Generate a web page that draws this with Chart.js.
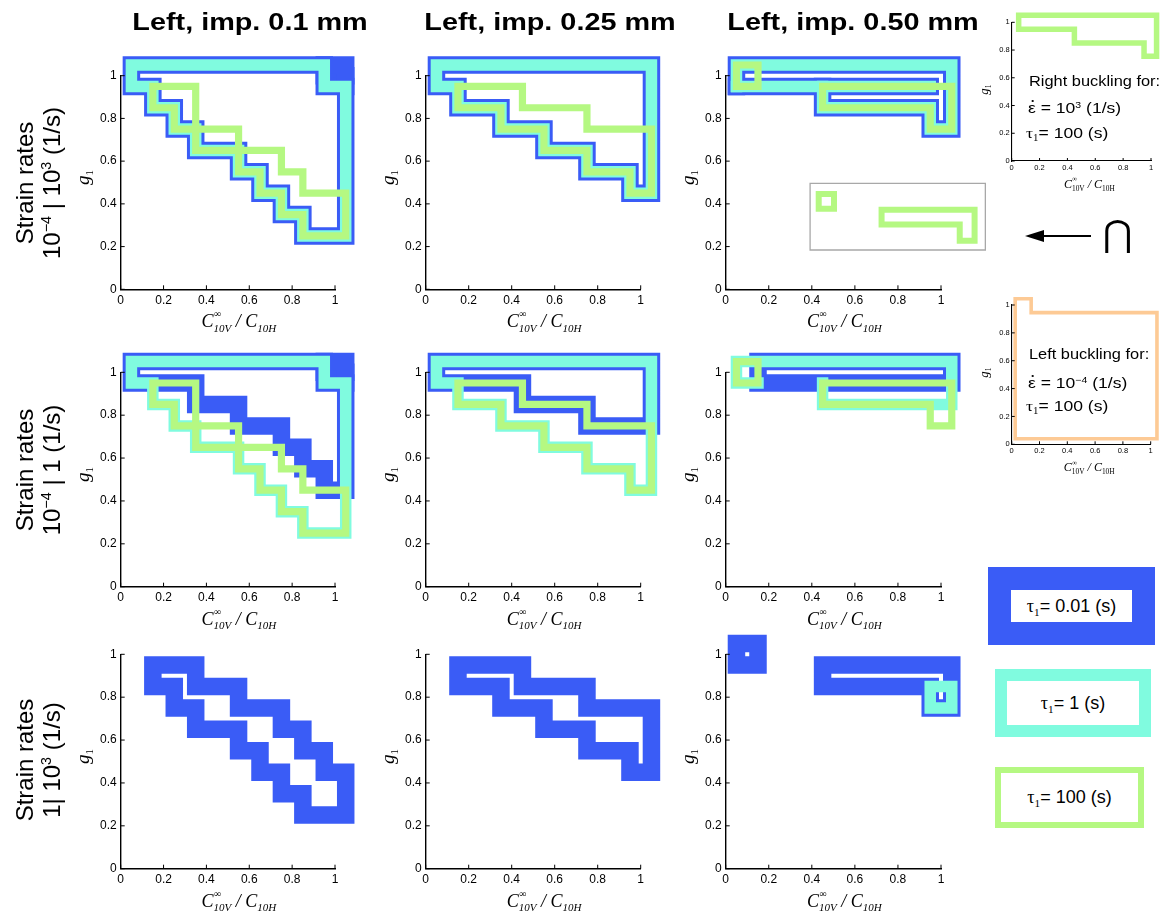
<!DOCTYPE html>
<html><head><meta charset="utf-8">
<script src="https://cdn.jsdelivr.net/npm/chart.js@4.4.1/dist/chart.umd.min.js"></script>
<style>
html,body{margin:0;padding:0;background:#fff;}
body{width:1163px;height:911px;overflow:hidden;position:relative;font-family:"Liberation Sans",Arial,Helvetica,sans-serif;color:#000;}
canvas{position:absolute;}
.ttl{position:absolute;font-weight:bold;font-size:24px;line-height:28px;white-space:nowrap;transform:translate(-50%,-50%) scaleX(1.2);}
.rl{position:absolute;font-size:24px;line-height:27px;text-align:center;white-space:nowrap;transform:translate(-50%,-50%) rotate(-90deg);}
.rl sup,.it sup{font-size:0.6em;line-height:0;vertical-align:0.6em;}
.it{position:absolute;font-size:14px;line-height:16px;white-space:nowrap;transform-origin:0 50%;transform:translateY(-50%) scaleX(1.17);}
.it.big{font-size:15px;}
.tau{font-family:"Liberation Serif","Times New Roman",serif;}
.tau sub{font-size:0.62em;vertical-align:-0.35em;line-height:0;}
.edot{position:relative;display:inline-block;}
.edot::before{content:'';position:absolute;left:38%;top:0px;width:2.2px;height:2.2px;background:#000;border-radius:1.1px;}
.lg{position:absolute;box-sizing:border-box;background:#fff;display:flex;align-items:center;justify-content:center;font-size:18px;white-space:nowrap;}
</style></head><body>
<script>
// ---------------- data ----------------
const xTicks = [0, 0.2, 0.4, 0.6, 0.8, 1];
const yTicks = [0, 0.2, 0.4, 0.6, 0.8, 1];
const columnTitles = ['Left, imp. 0.1 mm', 'Left, imp. 0.25 mm', 'Left, imp. 0.50 mm'];
const rowRates = ['10<sup>\u22124</sup> | 10<sup>3</sup> (1/s)', '10<sup>\u22124</sup> | 1 (1/s)', '1| 10<sup>3</sup> (1/s)'];
const tauValues = ['0.01', '1', '100'];

// region outlines (x = C10V/C10H, y = g1), one array of polylines per series and panel
const r1c1Blue = [
  [[0.05,1.05],[1.05,1.05],[1.05,0.25],[0.85,0.25],[0.85,0.35],[0.75,0.35],[0.75,0.45],[0.65,0.45],[0.65,0.55],[0.55,0.55],[0.55,0.65],[0.35,0.65],[0.35,0.75],[0.25,0.75],[0.25,0.85],[0.15,0.85],[0.15,0.95],[0.05,0.95],[0.05,1.05]],
  [[0.95,1.05],[0.95,0.95],[1.05,0.95]],
  [[0.95,1.0],[1.05,1.0]]
];
const r1c1Cyan = [
  [[0.05,1.05],[0.95,1.05],[0.95,0.95],[1.05,0.95],[1.05,0.25],[0.85,0.25],[0.85,0.35],[0.75,0.35],[0.75,0.45],[0.65,0.45],[0.65,0.55],[0.55,0.55],[0.55,0.65],[0.35,0.65],[0.35,0.75],[0.25,0.75],[0.25,0.85],[0.15,0.85],[0.15,0.95],[0.05,0.95],[0.05,1.05]]
];
const r1c1Green = [
  [[0.15,0.95],[0.35,0.95],[0.35,0.75],[0.55,0.75],[0.55,0.65],[0.75,0.65],[0.75,0.55],[0.85,0.55],[0.85,0.45],[1.05,0.45],[1.05,0.25],[0.85,0.25],[0.85,0.35],[0.75,0.35],[0.75,0.45],[0.65,0.45],[0.65,0.55],[0.55,0.55],[0.55,0.65],[0.35,0.65],[0.35,0.75],[0.25,0.75],[0.25,0.85],[0.15,0.85],[0.15,0.95]]
];
const r1c2Blue = [
  [[0.05,1.05],[1.05,1.05],[1.05,0.45],[0.95,0.45],[0.95,0.55],[0.75,0.55],[0.75,0.65],[0.55,0.65],[0.55,0.75],[0.35,0.75],[0.35,0.85],[0.15,0.85],[0.15,0.95],[0.05,0.95],[0.05,1.05]]
];
const r1c2Cyan = [
  [[0.05,1.05],[1.05,1.05],[1.05,0.45],[0.95,0.45],[0.95,0.55],[0.75,0.55],[0.75,0.65],[0.55,0.65],[0.55,0.75],[0.35,0.75],[0.35,0.85],[0.15,0.85],[0.15,0.95],[0.05,0.95],[0.05,1.05]]
];
const r1c2Green = [
  [[0.15,0.95],[0.45,0.95],[0.45,0.85],[0.75,0.85],[0.75,0.75],[1.05,0.75],[1.05,0.45],[0.95,0.45],[0.95,0.55],[0.75,0.55],[0.75,0.65],[0.55,0.65],[0.55,0.75],[0.35,0.75],[0.35,0.85],[0.15,0.85],[0.15,0.95]]
];
const r1c3Blue = [
  [[0.05,0.95],[0.05,1.05],[1.05,1.05],[1.05,0.75],[0.95,0.75],[0.95,0.85],[0.45,0.85],[0.45,0.95]],
  [[0.05,0.95],[0.95,0.95]]
];
const r1c3Cyan = [
  [[0.05,0.95],[0.05,1.05],[1.05,1.05],[1.05,0.75],[0.95,0.75],[0.95,0.85],[0.45,0.85],[0.45,0.95]],
  [[0.05,0.95],[0.95,0.95]]
];
const r1c3Green = [
  [[0.05,0.95],[0.15,0.95],[0.15,1.05],[0.05,1.05],[0.05,0.95]],
  [[0.45,0.95],[1.05,0.95],[1.05,0.75],[0.95,0.75],[0.95,0.85],[0.45,0.85],[0.45,0.95]]
];
const intersectBox = [[0.392,0.184],[1.206,0.184],[1.206,0.496],[0.392,0.496],[0.392,0.184]];
const intersectGreen = [
  [[0.432,0.446],[0.503,0.446],[0.503,0.377],[0.432,0.377],[0.432,0.446]],
  [[0.724,0.373],[1.156,0.373],[1.156,0.227],[1.087,0.227],[1.087,0.303],[0.724,0.303],[0.724,0.373]]
];
const r2c1Blue = [
  [[0.05,1.05],[1.05,1.05],[1.05,0.45],[0.95,0.45],[0.95,0.55],[0.85,0.55],[0.85,0.65],[0.75,0.65],[0.75,0.75],[0.55,0.75],[0.55,0.85],[0.35,0.85],[0.35,0.95],[0.05,0.95],[0.05,1.05]],
  [[0.95,1.05],[0.95,0.95],[1.05,0.95]],
  [[0.95,1.0],[1.05,1.0]]
];
const r2c1Cyan = [
  [[0.05,1.05],[0.95,1.05],[0.95,0.95],[1.05,0.95],[1.05,0.25],[0.85,0.25],[0.85,0.35],[0.75,0.35],[0.75,0.45],[0.65,0.45],[0.65,0.55],[0.55,0.55],[0.55,0.65],[0.35,0.65],[0.35,0.75],[0.25,0.75],[0.25,0.85],[0.15,0.85],[0.15,0.95],[0.05,0.95],[0.05,1.05]]
];
const r2c1Green = [
  [[0.15,0.95],[0.35,0.95],[0.35,0.75],[0.55,0.75],[0.55,0.65],[0.75,0.65],[0.75,0.55],[0.85,0.55],[0.85,0.45],[1.05,0.45],[1.05,0.25],[0.85,0.25],[0.85,0.35],[0.75,0.35],[0.75,0.45],[0.65,0.45],[0.65,0.55],[0.55,0.55],[0.55,0.65],[0.35,0.65],[0.35,0.75],[0.25,0.75],[0.25,0.85],[0.15,0.85],[0.15,0.95]]
];
const r2c2Blue = [
  [[0.05,1.05],[1.05,1.05],[1.05,0.75],[0.75,0.75],[0.75,0.85],[0.45,0.85],[0.45,0.95],[0.05,0.95],[0.05,1.05]]
];
const r2c2Cyan = [
  [[0.05,1.05],[1.05,1.05],[1.05,0.45],[0.95,0.45],[0.95,0.55],[0.75,0.55],[0.75,0.65],[0.55,0.65],[0.55,0.75],[0.35,0.75],[0.35,0.85],[0.15,0.85],[0.15,0.95],[0.05,0.95],[0.05,1.05]]
];
const r2c2Green = [
  [[0.15,0.95],[0.45,0.95],[0.45,0.85],[0.75,0.85],[0.75,0.75],[1.05,0.75],[1.05,0.45],[0.95,0.45],[0.95,0.55],[0.75,0.55],[0.75,0.65],[0.55,0.65],[0.55,0.75],[0.35,0.75],[0.35,0.85],[0.15,0.85],[0.15,0.95]]
];
const r2c3Blue = [
  [[0.15,0.95],[0.15,1.05],[1.05,1.05],[1.05,0.95],[0.15,0.95]]
];
const r2c3Cyan = [
  [[0.45,0.95],[0.45,0.85],[1.05,0.85],[1.05,1.05],[0.05,1.05],[0.05,0.95],[0.15,0.95]]
];
const r2c3Green = [
  [[0.05,0.95],[0.15,0.95],[0.15,1.05],[0.05,1.05],[0.05,0.95]],
  [[0.45,0.95],[1.05,0.95],[1.05,0.75],[0.95,0.75],[0.95,0.85],[0.45,0.85],[0.45,0.95]]
];
const r3c1Blue = [
  [[0.15,0.95],[0.35,0.95],[0.35,0.85],[0.55,0.85],[0.55,0.75],[0.75,0.75],[0.75,0.65],[0.85,0.65],[0.85,0.55],[0.95,0.55],[0.95,0.45],[1.05,0.45],[1.05,0.25],[0.85,0.25],[0.85,0.35],[0.75,0.35],[0.75,0.45],[0.65,0.45],[0.65,0.55],[0.55,0.55],[0.55,0.65],[0.35,0.65],[0.35,0.75],[0.25,0.75],[0.25,0.85],[0.15,0.85],[0.15,0.95]]
];
const r3c2Blue = [
  [[0.15,0.95],[0.45,0.95],[0.45,0.85],[0.75,0.85],[0.75,0.75],[1.05,0.75],[1.05,0.45],[0.95,0.45],[0.95,0.55],[0.75,0.55],[0.75,0.65],[0.55,0.65],[0.55,0.75],[0.35,0.75],[0.35,0.85],[0.15,0.85],[0.15,0.95]]
];
const r3c3Blue = [
  [[0.05,0.95],[0.15,0.95],[0.15,1.05],[0.05,1.05],[0.05,0.95]],
  [[0.45,0.95],[1.05,0.95],[1.05,0.75],[0.95,0.75],[0.95,0.85],[0.45,0.85],[0.45,0.95]]
];
const r3c3Cyan = [
  [[0.95,0.75],[1.05,0.75],[1.05,0.85],[0.95,0.85],[0.95,0.75]]
];
const rightBucklingGreen = [
  [[0.05,0.95],[0.05,1.05],[1.04,1.05],[1.04,0.755],[0.95,0.755],[0.95,0.85],[0.45,0.85],[0.45,0.95],[0.05,0.95]]
];
const leftBucklingOrange = [
  [[0.025,1.045],[0.14,1.045],[0.14,0.945],[1.045,0.945],[1.045,0.04],[0.025,0.04],[0.025,1.045]]
];

// ---------------- style ----------------
const BLUE = '#3a5cf6', CYAN = '#80fbdf', GREEN = '#b5f882', ORANGE = '#fdca95', GREY = '#a8a8a8';
const SANS = '"Liberation Sans", Arial, Helvetica, sans-serif';
const SERIF = '"Liberation Serif", "Times New Roman", serif';

function lines(polys, color, width, order) {
  return polys.map(p => ({
    data: p.map(q => ({x: q[0], y: q[1]})),
    showLine: true, borderColor: color, backgroundColor: color, borderWidth: width,
    pointRadius: 0, borderJoinStyle: 'miter', borderCapStyle: 'square',
    fill: false, tension: 0, clip: false, order: order
  }));
}
const fmt = v => String(Math.round(v * 10) / 10);

function xTitle(ctx, cx, by, s, upright) {
  const big = 'italic ' + (18 * s) + 'px ' + SERIF;
  const small = (upright ? '' : 'italic ') + (11 * s) + 'px ' + SERIF;
  const supF = (10 * s) + 'px ' + SERIF;
  ctx.font = big; const wC = ctx.measureText('C').width; const wSl = ctx.measureText(' / ').width;
  ctx.font = small; const w1 = ctx.measureText('10V').width; const w2 = ctx.measureText('10H').width;
  let x = cx - (wC + w1 + wSl + wC + w2) / 2;
  ctx.fillStyle = '#000'; ctx.textAlign = 'left'; ctx.textBaseline = 'alphabetic';
  ctx.font = big; ctx.fillText('C', x, by); x += wC;
  ctx.font = supF; ctx.fillText('\u221e', x + 0.5 * s, by - 10 * s);
  ctx.font = small; ctx.fillText('10V', x, by + 4.5 * s); x += w1;
  ctx.font = big; ctx.fillText(' / ', x, by); x += wSl;
  ctx.fillText('C', x, by); x += wC;
  ctx.font = small; ctx.fillText('10H', x, by + 4.5 * s);
}
function yTitle(ctx, cx, cy, s) {
  ctx.save(); ctx.translate(cx, cy); ctx.rotate(-Math.PI / 2);
  const gF = 'italic ' + (19 * s) + 'px ' + SERIF, oF = (11 * s) + 'px ' + SERIF;
  ctx.font = gF; const wg = ctx.measureText('g').width;
  ctx.font = oF; const wo = ctx.measureText('1').width;
  const x = -(wg + wo) / 2;
  ctx.fillStyle = '#000'; ctx.textAlign = 'left'; ctx.textBaseline = 'alphabetic';
  ctx.font = gF; ctx.fillText('g', x, 4 * s);
  ctx.font = oF; ctx.fillText('1', x + wg, 8 * s);
  ctx.restore();
}
const decoPlugin = {
  id: 'deco',
  afterDraw(chart, args, o) {
    const ctx = chart.ctx, a = chart.chartArea, xs = chart.scales.x, ys = chart.scales.y;
    ctx.save();
    ctx.strokeStyle = '#000'; ctx.lineWidth = 1;
    ctx.beginPath();
    xTicks.forEach(v => { const p = xs.getPixelForValue(v); ctx.moveTo(p, a.bottom); ctx.lineTo(p, a.bottom - o.tick); });
    yTicks.forEach(v => { const p = ys.getPixelForValue(v); ctx.moveTo(a.left, p); ctx.lineTo(a.left + o.tick, p); });
    ctx.stroke();
    xTitle(ctx, (a.left + a.right) / 2 + o.xdx, a.bottom + o.xdy, o.s, o.up);
    yTitle(ctx, a.left + o.ydx, (a.top + a.bottom) / 2 + o.ydy, o.s);
    ctx.restore();
  }
};

function makeChart(X0, Y1, W, H, datasets, o) {
  const cl = Math.floor(X0 - o.yw - 30), ct = Math.floor(Y1 - 45);
  const cr = Math.ceil(X0 + W + 45), cb = Math.ceil(Y1 + H + o.xh + 15);
  const cw = cr - cl, ch = cb - ct;
  const cv = document.createElement('canvas');
  cv.width = cw; cv.height = ch;
  cv.style.left = cl + 'px'; cv.style.top = ct + 'px';
  cv.style.width = cw + 'px'; cv.style.height = ch + 'px';
  document.body.appendChild(cv);
  const pad = {left: X0 - o.yw - cl, top: Y1 - ct, right: cr - X0 - W, bottom: cb - Y1 - H - o.xh};
  const tickFont = {family: SANS, size: o.fs};
  new Chart(cv, {
    type: 'scatter',
    data: {datasets: datasets},
    options: {
      responsive: false, animation: false, events: [],
      layout: {padding: pad},
      plugins: {legend: {display: false}, tooltip: {enabled: false},
        deco: {tick: o.tick, xdx: o.xdx, xdy: o.xdy, ydx: o.ydx, ydy: o.ydy, s: o.s, up: o.up}},
      scales: {
        x: {type: 'linear', min: 0, max: 1,
          afterFit: sc => { sc.height = o.xh; },
          afterBuildTicks: sc => { sc.ticks = xTicks.map(v => ({value: v})); },
          ticks: {font: tickFont, color: '#000', padding: o.tp, maxRotation: 0, autoSkip: false, callback: v => fmt(v)},
          grid: {display: false, drawTicks: false},
          border: {display: true, color: '#000', width: o.bw}},
        y: {type: 'linear', min: 0, max: 1,
          afterFit: sc => { sc.width = o.yw; },
          afterBuildTicks: sc => { sc.ticks = yTicks.map(v => ({value: v})); },
          ticks: {font: tickFont, color: '#000', padding: o.tp, autoSkip: false, callback: v => fmt(v)},
          grid: {display: false, drawTicks: false},
          border: {display: true, color: '#000', width: o.bw}}
      }
    },
    plugins: [decoPlugin]
  });
}

// ---------------- layout ----------------
const colX0 = [120.7, 425.7, 725.7], colW = [214.3, 215, 215.3];
const rowY1 = [75.7, 372.3, 654.3], rowH = [213.6, 214.4, 214.4];
const mainOpt = {yw: 40, xh: 40, fs: 12, tp: 4, bw: 1.4, tick: 4, xdx: 11, xdy: 38, ydx: -36, ydy: -5, s: 1, up: 0};
const BW = 17.5, CW = 11.5, GW = 7.2;

const panels = [
  [0, 0, [].concat(lines(r1c1Blue, BLUE, BW, 3), lines(r1c1Cyan, CYAN, CW, 2), lines(r1c1Green, GREEN, GW, 1))],
  [0, 1, [].concat(lines(r1c2Blue, BLUE, BW, 3), lines(r1c2Cyan, CYAN, CW, 2), lines(r1c2Green, GREEN, GW, 1))],
  [0, 2, [].concat(lines(r1c3Blue, BLUE, BW, 3), lines(r1c3Cyan, CYAN, CW, 2), lines(r1c3Green, GREEN, GW, 1),
                   lines([intersectBox], GREY, 1.3, 4), lines(intersectGreen, GREEN, 6, 1))],
  [1, 0, [].concat(lines(r2c1Blue, BLUE, BW, 3), lines(r2c1Cyan, CYAN, CW, 2), lines(r2c1Green, GREEN, GW, 1))],
  [1, 1, [].concat(lines(r2c2Blue, BLUE, BW, 3), lines(r2c2Cyan, CYAN, CW, 2), lines(r2c2Green, GREEN, GW, 1))],
  [1, 2, [].concat(lines(r2c3Blue, BLUE, BW, 3), lines(r2c3Cyan, CYAN, CW, 2), lines(r2c3Green, GREEN, GW, 1))],
  [2, 0, lines(r3c1Blue, BLUE, BW, 3)],
  [2, 1, lines(r3c2Blue, BLUE, BW, 3)],
  [2, 2, [].concat(lines(r3c3Blue, BLUE, BW, 3), lines(r3c3Cyan, CYAN, CW, 2))]
];
panels.forEach(p => makeChart(colX0[p[1]], rowY1[p[0]], colW[p[1]], rowH[p[0]], p[2], mainOpt));

const insetOpt = {yw: 30, xh: 30, fs: 7.5, tp: 2, bw: 1.1, tick: 3, xdx: 8, xdy: 27, ydx: -26, ydy: -2, s: 0.67, up: 1};
makeChart(1011.7, 22.3, 139.3, 138.7, lines(rightBucklingGreen, GREEN, 5.5, 1), insetOpt);
makeChart(1011.7, 305, 139, 139.3, lines(leftBucklingOrange, ORANGE, 3.6, 1), insetOpt);

// ---------------- texts ----------------
function addDiv(cls, html, style) {
  const d = document.createElement('div'); d.className = cls; d.innerHTML = html;
  Object.assign(d.style, style); document.body.appendChild(d); return d;
}
const titleX = [250, 550, 853];
columnTitles.forEach((t, i) => addDiv('ttl', t, {left: titleX[i] + 'px', top: '22px'}));
const rowCY = [183, 470, 760];
rowRates.forEach((r, i) => addDiv('rl', 'Strain rates<br>' + r, {left: '38px', top: rowCY[i] + 'px'}));

const tauHtml = '<span class="tau">\u03c4<sub>1</sub></span>';
const epsHtml = '<span class="edot">\u03b5</span>';
addDiv('it', 'Right buckling for:', {left: '1029px', top: '81px'});
addDiv('it big', epsHtml + ' = 10<sup>3</sup> (1/s)', {left: '1028px', top: '108px'});
addDiv('it big', tauHtml + '= 100 (s)', {left: '1026px', top: '133px'});
addDiv('it', 'Left buckling for:', {left: '1029px', top: '354px'});
addDiv('it big', epsHtml + ' = 10<sup>\u22124</sup> (1/s)', {left: '1028px', top: '383px'});
addDiv('it big', tauHtml + '= 100 (s)', {left: '1026px', top: '406px'});

const legendBoxes = [
  {l: 988, t: 567, w: 167, h: 78, b: 23, c: BLUE},
  {l: 995, t: 669, w: 156, h: 68, b: 12.5, c: CYAN},
  {l: 995, t: 767, w: 149, h: 61, b: 6, c: GREEN}
];
legendBoxes.forEach((g, i) => addDiv('lg', tauHtml + '= ' + tauValues[i] + ' (s)', {
  left: g.l + 'px', top: g.t + 'px', width: g.w + 'px', height: g.h + 'px', border: g.b + 'px solid ' + g.c}));

// arrow and intersection sign
const svgNS = 'http://www.w3.org/2000/svg';
const svg = document.createElementNS(svgNS, 'svg');
svg.setAttribute('width', '80'); svg.setAttribute('height', '20');
svg.style.position = 'absolute'; svg.style.left = '1020px'; svg.style.top = '226px';
svg.innerHTML = '<line x1="20" y1="10" x2="71" y2="10" stroke="#000" stroke-width="1.8"/><polygon points="5,10 24,4 24,16" fill="#000"/>';
document.body.appendChild(svg);
addDiv('', '\u22c2', {position: 'absolute', left: '1103px', top: '214px', fontSize: '36px', lineHeight: '40px', fontFamily: '"DejaVu Sans", sans-serif'});
</script>
</body></html>
